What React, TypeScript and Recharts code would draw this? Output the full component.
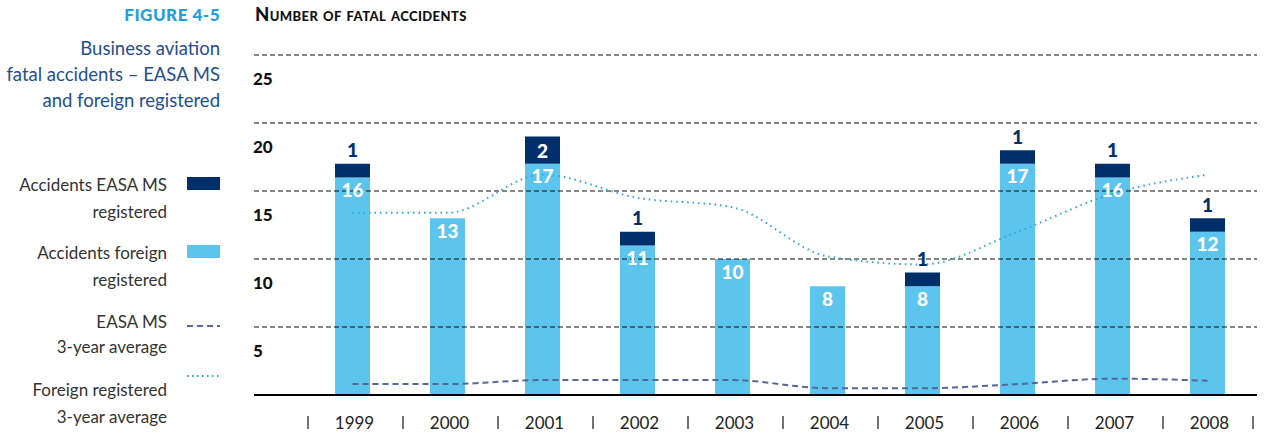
import React from 'react';
import { ComposedChart, Bar, Line, XAxis, YAxis, ReferenceLine, LabelList } from 'recharts';

const years = ['1999', '2000', '2001', '2002', '2003', '2004', '2005', '2006', '2007', '2008'];
const easaMs = [1, 0, 2, 1, 0, 0, 1, 1, 1, 1];
const foreign = [16, 13, 17, 11, 10, 8, 8, 17, 16, 12];
const easaAvg = [0.8, 0.8, 1.1, 1.1, 1.1, 0.5, 0.5, 0.8, 1.2, 1.05];
const foreignAvg = [13.4, 13.4, 16.2, 14.5, 13.8, 10.2, 9.6, 12.0, 14.8, 16.2];
const yTicks = [5, 10, 15, 20, 25];

const data = years.map((y, i) => ({
  year: y,
  easa: easaMs[i],
  foreign: foreign[i],
  easaAvg: easaAvg[i],
  foreignAvg: foreignAvg[i],
}));

const NAVY = '#002f6c';
const LIGHT = '#5cc5ed';
const DOTTED = '#2aa6df';
const DASHED = '#56679b';
const FONT = 'Lato, "Open Sans", sans-serif';

const YTick = (props: any) => {
  const { y, payload } = props;
  return (
    <text x={253} y={y + 23} textAnchor="start" dominantBaseline="central" fontFamily={FONT} fontWeight={900} fontSize={17} fill="#111">
      {payload.value}
    </text>
  );
};

const XTick = (props: any) => {
  const { x, y, payload, index } = props;
  const half = 47.5;
  const ty = y + 19;
  return (
    <g>
      <line x1={x - half + 3} x2={x - half + 3} y1={ty - 6} y2={ty + 7} stroke="#444" strokeWidth={1.5} />
      <text x={x + 2} y={ty} textAnchor="middle" dominantBaseline="central" fontFamily={FONT} fontSize={17} fill="#222">{payload.value}</text>
      {index === years.length - 1 ? (
        <line x1={x + half - 2} x2={x + half - 2} y1={ty - 6} y2={ty + 7} stroke="#444" strokeWidth={1.5} />
      ) : null}
    </g>
  );
};

const EasaLabel = (props: any) => {
  const { x, y, width, height, value } = props;
  if (!value) return null;
  if (value > 1) {
    return (
      <text x={x + width / 2} y={y + height / 2} textAnchor="middle" dominantBaseline="central" fontFamily={FONT} fontWeight={900} fontSize={19} fill="#fff">{value}</text>
    );
  }
  return (
    <text x={x + width / 2} y={y - 14} textAnchor="middle" dominantBaseline="central" fontFamily={FONT} fontWeight={900} fontSize={19} fill={NAVY}>{value}</text>
  );
};

const ForeignLabel = (props: any) => {
  const { x, y, width, value } = props;
  return (
    <text x={x + width / 2} y={y + 12} textAnchor="middle" dominantBaseline="central" fontFamily={FONT} fontWeight={900} fontSize={19} fill="#fff">{value}</text>
  );
};

const legendText: React.CSSProperties = {
  position: 'absolute',
  left: 0,
  width: 167,
  textAlign: 'right',
  fontFamily: FONT,
  fontSize: 17,
  color: '#333',
  lineHeight: '27px',
};

export default function App() {
  return (
    <div style={{ position: 'absolute', left: 0, top: 0, width: 1275, height: 436, background: '#fff', overflow: 'hidden' }}>
      <div style={{ position: 'absolute', left: 0, width: 220, top: 4, textAlign: 'right', fontFamily: FONT, fontWeight: 900, fontSize: 17, color: '#1fa0dc', lineHeight: '22px', letterSpacing: 0.5 }}>
        FIGURE 4-5
      </div>
      <div style={{ position: 'absolute', left: 255, top: 3, fontFamily: FONT, fontWeight: 900, fontSize: 18.5, color: '#111', lineHeight: '22px', fontVariant: 'small-caps', letterSpacing: 0.4 }}>
        Number of fatal accidents
      </div>
      <div style={{ position: 'absolute', left: 0, width: 220, top: 35, textAlign: 'right', fontFamily: FONT, fontSize: 18.5, color: '#1f4f8f', lineHeight: '26px' }}>
        Business aviation<br />fatal accidents – EASA MS<br />and foreign registered
      </div>

      <div style={{ ...legendText, top: 171 }}>Accidents EASA MS<br />registered</div>
      <div style={{ ...legendText, top: 239 }}>Accidents foreign<br />registered</div>
      <div style={{ ...legendText, top: 309, lineHeight: '25px' }}>EASA MS<br />3-year average</div>
      <div style={{ ...legendText, top: 376 }}>Foreign registered<br />3-year average</div>

      <svg style={{ position: 'absolute', left: 0, top: 0 }} width={240} height={436}>
        <rect x={187} y={177} width={33} height={13} fill={NAVY} />
        <rect x={187} y={245} width={33} height={13} fill={LIGHT} />
        <line x1={187} x2={220} y1={326} y2={326} stroke={DASHED} strokeWidth={2} strokeDasharray="6 4" />
        <line x1={187} x2={220} y1={376} y2={376} stroke={DOTTED} strokeWidth={2} strokeDasharray="1.5 3.5" />
      </svg>

      <div style={{ position: 'absolute', left: 0, top: 0 }}>
        <ComposedChart width={1275} height={436} data={data} margin={{ top: 55, right: 18, bottom: 11, left: 253 }}>
          <XAxis
            dataKey="year"
            height={30}
            padding={{ left: 51, right: 2 }}
            axisLine={{ stroke: '#000', strokeWidth: 2 }}
            tickLine={false}
            tick={<XTick />}
            interval={0}
          />
          <YAxis
            width={1}
            domain={[0, 25]}
            ticks={yTicks}
            interval={0}
            axisLine={false}
            tickLine={false}
            tick={<YTick />}
          />
          <Bar dataKey="foreign" stackId="a" fill={LIGHT} barSize={35} isAnimationActive={false}>
            <LabelList dataKey="foreign" content={<ForeignLabel />} />
          </Bar>
          <Bar dataKey="easa" stackId="a" fill={NAVY} barSize={35} isAnimationActive={false}>
            <LabelList dataKey="easa" content={<EasaLabel />} />
          </Bar>
          {yTicks.map((t) => (
            <ReferenceLine key={t} y={t} stroke="#111" strokeWidth={1.1} strokeDasharray="5 3" />
          ))}
          <Line type="monotone" dataKey="easaAvg" stroke={DASHED} strokeWidth={2} strokeDasharray="6 4" dot={false} activeDot={false} isAnimationActive={false} />
          <Line type="monotone" dataKey="foreignAvg" stroke={DOTTED} strokeWidth={2} strokeDasharray="1.5 4" dot={false} activeDot={false} isAnimationActive={false} />
        </ComposedChart>
      </div>
    </div>
  );
}
